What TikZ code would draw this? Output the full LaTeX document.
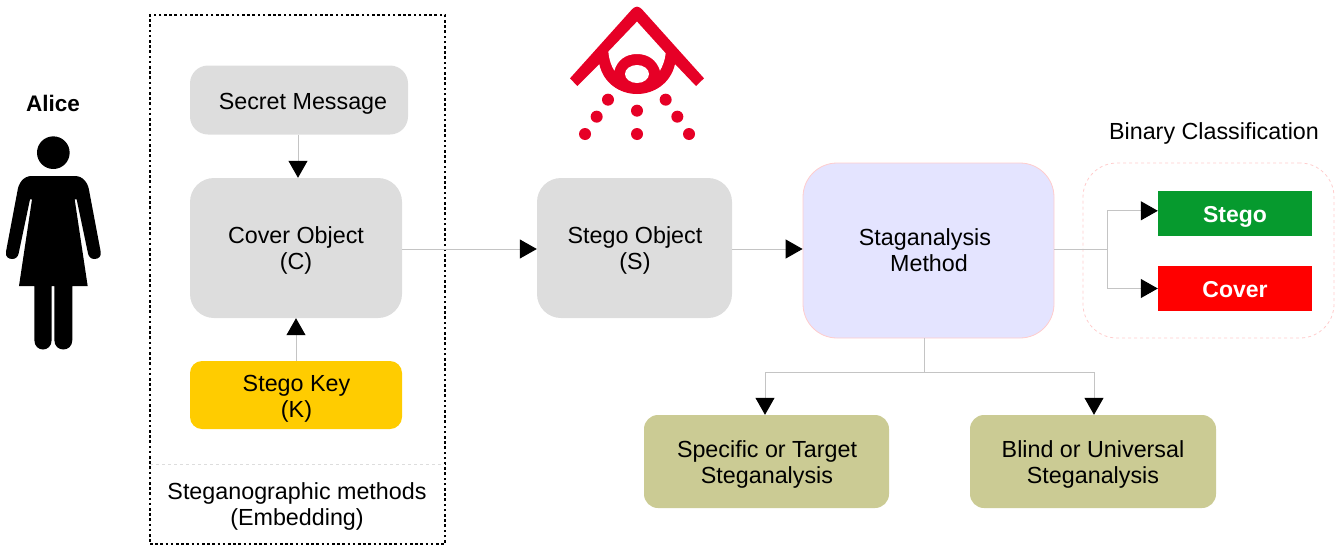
\documentclass[tikz,border=0pt]{standalone}
\usepackage{fontspec}
\setmainfont{Liberation Sans}
\usetikzlibrary{arrows.meta}
\definecolor{boxgray}{HTML}{DDDDDD}
\definecolor{conn}{HTML}{C4C4C4}
\definecolor{keyyellow}{HTML}{FFCC00}
\definecolor{anafill}{HTML}{E4E4FF}
\definecolor{paleborder}{HTML}{FFCCCC}
\definecolor{olivebox}{HTML}{CBCB94}
\definecolor{stegogreen}{HTML}{069A2E}
\definecolor{eyered}{HTML}{E60026}
\tikzset{
  x=1pt,y=-1pt,
  txt/.style={font=\fontsize{23.3}{26}\selectfont,text=black,align=center,inner sep=0pt},
  box/.style={rounded corners=#1,draw=none,anchor=center,inner sep=0pt},
  box/.default=18pt,
  conline/.style={draw=conn,line width=1pt},
  tipped/.style={conline,-{Triangle[length=17pt,width=19pt,fill=black,color=black]}},
  flag/.style={inner sep=0pt,anchor=center,minimum width=154pt,minimum height=45pt},
  flagtxt/.style={font=\fontsize{23}{26}\bfseries\selectfont,text=white,inner sep=0pt},
}
\begin{document}
\begin{tikzpicture}
\useasboundingbox (0,0) rectangle (1339,547);
% Alice
\node[font=\fontsize{22.5}{26}\bfseries\selectfont,inner sep=0pt] (alice) at (53,103) {Alice};
\begin{scope}[shift={(0,80)},x=1/3*1pt,y=-1/3*1pt]
\fill[black] (160,218) circle[radius=49];
\fill[black] (95,288) -- (225,288) .. controls (250,288) and (265,310) .. (268,335)
 -- (302,515) .. controls (305,530) and (295,537) .. (283,537) .. controls (273,537) and (266,530) .. (264,520)
 -- (230,358) -- (224,358) -- (263,618) -- (217,618) -- (217,780)
 .. controls (217,818) and (163,818) .. (163,780) -- (163,618) -- (155,618) -- (155,780)
 .. controls (155,818) and (103,818) .. (103,780) -- (103,618) -- (57,618) -- (96,358) -- (90,358)
 -- (56,520) .. controls (54,530) and (47,537) .. (37,537) .. controls (25,537) and (15,530) .. (18,515)
 -- (52,335) .. controls (55,310) and (70,288) .. (95,288) -- cycle;
\end{scope}
% dotted frame
\node[draw=black,dash pattern=on 2.6pt off 2.6pt,line width=2pt,minimum width=295pt,minimum height=529pt,inner sep=0pt] (frame) at (297.5,279.5) {};
\coordinate (sepL) at (150,464); \coordinate (sepR) at (445,464);
\draw[draw=boxgray,dashed,line width=.8pt] (sepL) -- (sepR);
% boxes
\node[box,fill=boxgray,minimum width=218pt,minimum height=69pt] (secret) at (299,100) {};
\node[txt] (secretT) at (303,104) {Secret Message};
\node[box=24pt,fill=boxgray,minimum width=212pt,minimum height=140pt] (cover) at (296,248) {};
\node[txt] (coverT) at (296,250.5) {Cover Object\\(C)};
\node[box=12pt,fill=keyyellow,minimum width=212pt,minimum height=68pt] (key) at (296,395) {};
\node[txt] (keyT) at (296.5,399) {Stego Key\\(K)};
\node[box=24pt,fill=boxgray,minimum width=195pt,minimum height=140pt] (stegoobj) at (634.5,248) {};
\node[txt] (stegoobjT) at (635,250.5) {Stego Object\\(S)};
\node[box=34pt,fill=anafill,draw=paleborder,line width=.8pt,minimum width=251pt,minimum height=175pt] (ana) at (928.5,250.5) {};
\node[txt] (anaT) at (925,250.5) {Staganalysis\\\hspace*{8pt}Method};
\node[txt] (methods) at (297,506.5) {Steganographic methods\\(Embedding)};
\node[box=14pt,fill=olivebox,minimum width=245pt,minimum height=93pt] (specific) at (766.5,461.5) {};
\node[txt] (specificT) at (767,464) {Specific or Target\\Steganalysis};
\node[box=14pt,fill=olivebox,minimum width=246pt,minimum height=93pt] (blind) at (1093,461.5) {};
\node[txt] (blindT) at (1093,464) {Blind or Universal\\Steganalysis};
\node[txt] (binary) at (1214,133) {Binary Classification};
\node[draw=paleborder,dashed,line width=.8pt,rounded corners=34pt,minimum width=251pt,minimum height=175pt,inner sep=0pt] (bin) at (1208.5,250.5) {};
\node[flag,fill=stegogreen] (stego) at (1235,213.5) {};
\node[flagtxt] (stegoT) at (1235,217) {Stego};
\node[flag,fill=red] (coverflag) at (1235,288.5) {};
\node[flagtxt] (coverflagT) at (1235,289.5) {Cover};
% connectors
\coordinate (trunkR) at (1107,249.5);
\coordinate (trunkD) at (924,372);
\draw[tipped] ([xshift=-1pt]secret.south) -- ([xshift=2pt]cover.north);
\draw[tipped] (key.north) -- (cover.south);
\draw[tipped] (cover.east |- 0,249) -- (stegoobj.west |- 0,249);
\draw[tipped] (stegoobj.east |- 0,249) -- (ana.west |- 0,249);
\draw[conline] (ana.east |- trunkR) -- (trunkR);
\draw[tipped] (trunkR) |- ([yshift=2.7pt]stego.west);
\draw[tipped] (trunkR) |- (coverflag.west);
\draw[conline] (trunkD |- ana.south) -- (trunkD);
\draw[tipped] (trunkD) -| ([xshift=-1.5pt]specific.north);
\draw[tipped] (trunkD) -| ([xshift=1pt]blind.north);
% eye emblem
\begin{scope}[shift={(550,0)},x=1/3*1pt,y=-1/3*1pt]
\fill[eyered] (261,20) .. controls (255,20) and (250,24) .. (246,28) -- (60,235) -- (82,258) -- (148,192)
 .. controls (160,250) and (210,282) .. (261,282) .. controls (312,282) and (362,250) .. (375,192)
 -- (438,258) -- (462,235) -- (276,28) .. controls (272,24) and (267,20) .. (261,20) -- cycle;
\fill[white] (261,65) -- (347,160) .. controls (345,180) and (338,198) .. (330,212)
 .. controls (320,180) and (295,162) .. (261,162) .. controls (227,162) and (202,180) .. (193,212)
 .. controls (184,198) and (177,178) .. (175,155) -- cycle;
\fill[white] (261,222) ellipse[x radius=36,y radius=27];
\foreach \px/\py in {174/299,347/299,261/332,140/350,382/350,105/402,261/402,417/402}
  \fill[eyered] (\px,\py) circle[radius=18];
\end{scope}
\end{tikzpicture}
\end{document}
